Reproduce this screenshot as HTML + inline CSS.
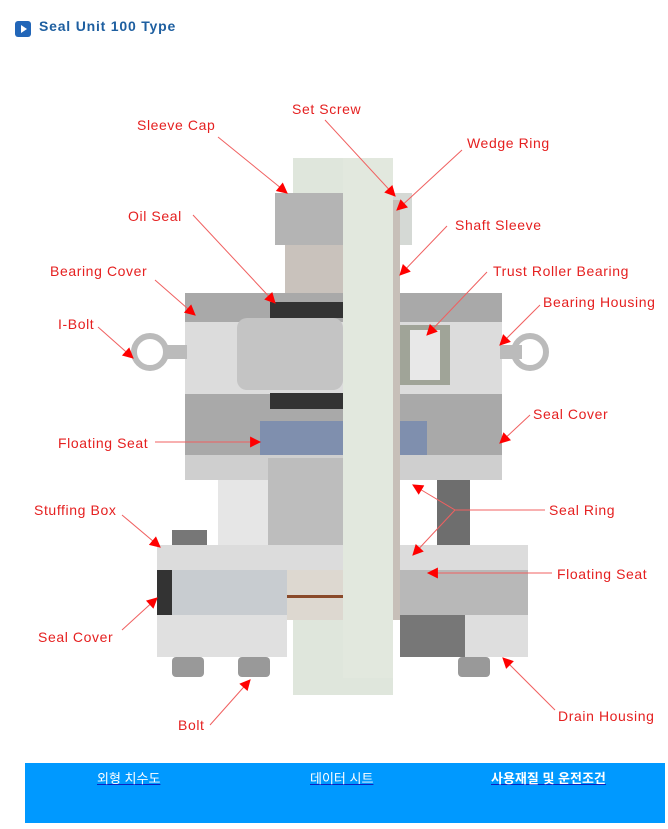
<!DOCTYPE html>
<html><head><meta charset="utf-8"><style>
body{margin:0;background:#fff;width:668px;height:829px;overflow:hidden;position:relative;font-family:"Liberation Sans","Noto Sans CJK KR",sans-serif}
.h{position:absolute;left:39px;top:18px;font-size:14px;font-weight:bold;color:#1e5fa0;letter-spacing:0.8px}
.ic{position:absolute;left:15px;top:21px;width:16px;height:16px;background:#2266b8;border-radius:3px}
.ic:after{content:"";position:absolute;left:6px;top:4px;border-left:6px solid #fff;border-top:4px solid transparent;border-bottom:4px solid transparent}
.bar{position:absolute;left:25px;top:763px;width:640px;height:60px;background:#0099ff}
.bar a{position:absolute;top:5px;color:#fff;font-size:13px;text-decoration:underline;text-decoration-color:#1020c0}
</style></head><body>
<div class="ic"></div><div class="h">Seal Unit 100 Type</div>
<svg width="668" height="760" style="position:absolute;left:0;top:0" font-family="Liberation Sans, sans-serif" font-size="14" fill="#e52020" letter-spacing="0.6">
<defs><marker id="a" viewBox="0 0 10 10" refX="9" refY="5" markerWidth="14" markerHeight="11" markerUnits="userSpaceOnUse" orient="auto"><path d="M0,0L10,5L0,10z" fill="#f00"/></marker></defs>
<rect x="293" y="158" width="100" height="45" fill="#dfe6dc"/>
<rect x="275" y="193" width="125" height="52" fill="#b4b4b4"/>
<rect x="343" y="193" width="69" height="52" fill="#d5d9d5"/>
<rect x="285" y="245" width="58" height="50" fill="#c9c2bc"/>
<rect x="185" y="293" width="317" height="177" fill="#a9a9a9"/>
<rect x="185" y="322" width="317" height="72" fill="#dcdcdc"/>
<rect x="237" y="318" width="106" height="72" rx="10" fill="#c4c4c4"/>
<rect x="270" y="302" width="73" height="16" fill="#333"/>
<rect x="270" y="393" width="73" height="16" fill="#333"/>
<rect x="400" y="325" width="50" height="60" fill="#a0a498"/>
<rect x="410" y="330" width="30" height="50" fill="#e8e8e8"/>
<rect x="260" y="421" width="83" height="36" fill="#7f8fae"/>
<rect x="400" y="421" width="27" height="36" fill="#7f8fae"/>
<rect x="185" y="455" width="317" height="25" fill="#cfcfcf"/>
<rect x="218" y="480" width="50" height="65" fill="#e6e6e6"/>
<rect x="268" y="458" width="75" height="112" fill="#bdbdbd"/>
<rect x="437" y="480" width="33" height="65" fill="#6e6e6e"/>
<rect x="172" y="530" width="35" height="18" fill="#777"/>
<rect x="157" y="545" width="371" height="25" fill="#dcdcdc"/>
<rect x="157" y="570" width="130" height="45" fill="#c8ccd0"/>
<rect x="400" y="570" width="128" height="45" fill="#b8b8b8"/>
<rect x="157" y="570" width="15" height="45" fill="#333"/>
<rect x="157" y="615" width="130" height="42" fill="#e0e0e0"/>
<rect x="400" y="615" width="128" height="42" fill="#dedede"/>
<rect x="400" y="615" width="65" height="42" fill="#777"/>
<rect x="287" y="570" width="56" height="50" fill="#ddd8d0"/>
<rect x="287" y="595" width="56" height="3" fill="#8a4a2a"/>
<rect x="293" y="620" width="100" height="75" fill="#dfe6dc"/>
<rect x="343" y="158" width="50" height="520" fill="#e2e8de"/>
<rect x="393" y="200" width="7" height="420" fill="#c7bfb8"/>
<rect x="172" y="657" width="32" height="20" rx="4" fill="#999"/>
<rect x="238" y="657" width="32" height="20" rx="4" fill="#999"/>
<rect x="458" y="657" width="32" height="20" rx="4" fill="#999"/>
<circle cx="150" cy="352" r="16" fill="none" stroke="#bbb" stroke-width="6"/>
<rect x="165" y="345" width="22" height="14" fill="#bbb"/>
<circle cx="530" cy="352" r="16" fill="none" stroke="#bbb" stroke-width="6"/>
<rect x="500" y="345" width="22" height="14" fill="#bbb"/>
<g stroke="#f06060" stroke-width="1" fill="none" marker-end="url(#a)">
<line x1="218" y1="137" x2="287" y2="193"/>
<line x1="325" y1="120" x2="395" y2="196"/>
<line x1="462" y1="150" x2="397" y2="210"/>
<line x1="193" y1="215" x2="275" y2="303"/>
<line x1="447" y1="226" x2="400" y2="275"/>
<line x1="155" y1="280" x2="195" y2="315"/>
<line x1="487" y1="272" x2="427" y2="335"/>
<line x1="540" y1="305" x2="500" y2="345"/>
<line x1="98" y1="327" x2="133" y2="358"/>
<line x1="530" y1="415" x2="500" y2="443"/>
<line x1="155" y1="442" x2="260" y2="442"/>
<line x1="455" y1="510" x2="413" y2="485"/>
<line x1="455" y1="510" x2="413" y2="555"/>
<line x1="122" y1="515" x2="160" y2="547"/>
<line x1="552" y1="573" x2="428" y2="573"/>
<line x1="122" y1="630" x2="157" y2="598"/>
<line x1="210" y1="725" x2="250" y2="680"/>
<line x1="555" y1="710" x2="503" y2="658"/>
</g>
<line x1="455" y1="510" x2="545" y2="510" stroke="#f06060"/>
<g>
<text x="137" y="130">Sleeve Cap</text>
<text x="292" y="114">Set Screw</text>
<text x="467" y="148">Wedge Ring</text>
<text x="128" y="221">Oil Seal</text>
<text x="455" y="230">Shaft Sleeve</text>
<text x="50" y="276">Bearing Cover</text>
<text x="493" y="276">Trust Roller Bearing</text>
<text x="543" y="307">Bearing Housing</text>
<text x="58" y="329">I-Bolt</text>
<text x="533" y="419">Seal Cover</text>
<text x="58" y="448">Floating Seat</text>
<text x="549" y="515">Seal Ring</text>
<text x="34" y="515">Stuffing Box</text>
<text x="557" y="579">Floating Seat</text>
<text x="38" y="642">Seal Cover</text>
<text x="178" y="730">Bolt</text>
<text x="558" y="721">Drain Housing</text>
</g>
</svg>
<div class="bar">
<a style="left:72px">외형 치수도</a>
<a style="left:285px">데이터 시트</a>
<a style="left:466px;font-weight:bold">사용재질 및 운전조건</a>
</div>
</body></html>
